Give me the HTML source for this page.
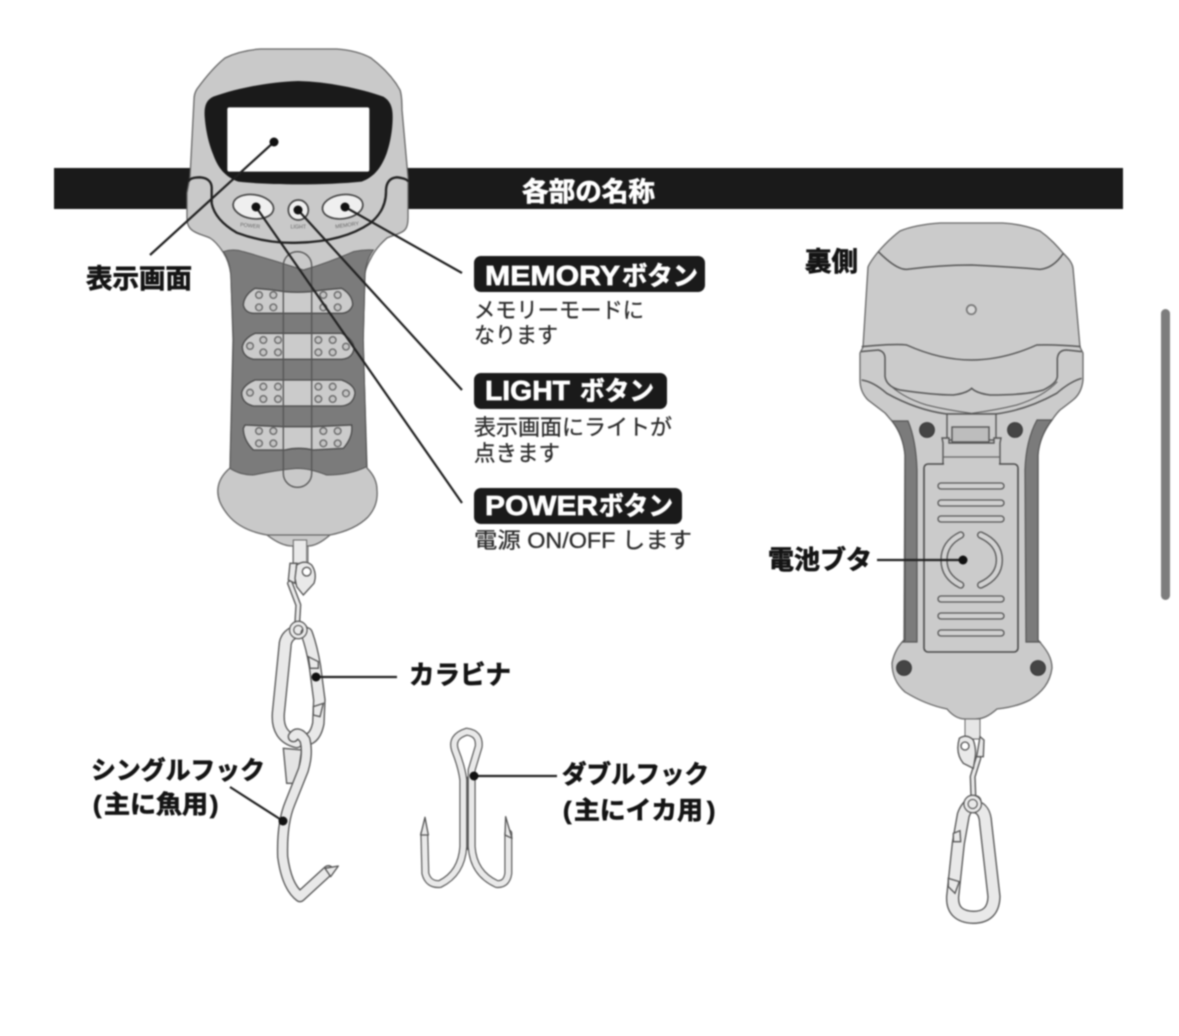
<!DOCTYPE html>
<html lang="ja"><head><meta charset="utf-8"><title>各部の名称</title>
<style>
html,body{margin:0;padding:0;background:#fff;width:1179px;height:1036px;overflow:hidden}
svg{display:block;filter:blur(.75px)}
text{font-family:"Liberation Sans","Noto Sans CJK JP",sans-serif}
.b{font-weight:700;fill:#141414;stroke:#141414;stroke-width:.7px}
.w{font-weight:700;fill:#fff;stroke:#fff;stroke-width:.7px}
.d{fill:#2c2c2c;font-size:22px;stroke:#2c2c2c;stroke-width:.3px}
.o{fill:none;stroke:#555;stroke-linecap:round;stroke-linejoin:round}
.i{fill:none;stroke:#e9e9e9;stroke-linecap:round;stroke-linejoin:round}
.l{stroke:#222;stroke-width:2.2;fill:none}
</style></head><body>
<svg width="1179" height="1036" viewBox="0 0 1179 1036" xmlns="http://www.w3.org/2000/svg">
<rect width="1179" height="1036" fill="#fff"/>
<rect x="54" y="168" width="1069" height="41" fill="#1a1a1a"/>
<text class="w" x="522" y="201" font-size="26.5" textLength="133" lengthAdjust="spacingAndGlyphs">各部の名称</text>
<rect x="1161" y="309" width="9" height="291" rx="4.5" fill="#7d7d7d"/>

<!-- FRONT BODY -->
<path d="M260 49 L337 49 C350 50 362 53 371 58 C384 68 394 79 400 90 C402 96 402 104 402 110 L408 177 L408 218 C408 228 405 231 400 233 C396 235 391 236 387 238 C379 245 374 252 371 258 C367 265 365 270 365 275 L363 340 L367 468 C374 475 377 482 377 490 C378 502 374 510 368 517 C358 527 345 532 330 535 C322 542 315 546 308 546 L292 546 C284 546 276 542 267 535 C250 532 237 526 228 515 C220 505 217 497 218 488 C219 480 224 473 230 468 L233 340 L231 275 C230 267 227 258 223 252 C219 246 215 241 210 238 C206 236 201 235 197 233 C190 230 187 226 187 218 L187 193 L190 177 L194 100 C194 95 195 92 197 89 C205 78 215 66 225 58 C235 53 248 50 260 49Z" fill="#c9c9c9" stroke="#666" stroke-width="1.3"/>
<path d="M267 535 L330 535" stroke="#666" stroke-width="1.2"/>
<rect x="293" y="546" width="15" height="22" fill="#e6e6e6" stroke="#666" stroke-width="1"/>

<g transform="translate(210 240) scale(.33333)">
<path d="M40 35 Q70 25 100 35 Q190 60 280 90 Q350 70 430 35 Q460 28 490 30 Q468 60 465 100 L460 300 L470 680 Q420 705 350 705 Q300 685 260 685 Q200 690 130 705 Q90 705 60 685 L70 300 L62 100 Q58 60 40 35Z" fill="#7b7b7b" stroke="#555" stroke-width="3"/>
<g fill="#cbcbcb" stroke="#4a4a4a" stroke-width="4">
<path d="M135 145 Q180 148 225 155 Q262 158 300 155 Q350 148 395 145 Q428 165 428 195 Q420 218 395 220 L130 220 Q105 218 100 195 Q102 165 135 145Z"/>
<path d="M135 280 L395 280 Q432 300 432 325 Q428 355 395 358 L130 358 Q97 350 97 320 Q102 295 135 280Z"/>
<path d="M135 420 L395 420 Q435 435 435 460 Q430 495 395 498 L130 498 Q95 490 95 458 Q100 435 135 420Z"/>
<path d="M105 555 L220 560 L310 560 L425 555 Q430 590 400 625 L310 630 Q265 620 225 630 L130 630 Q100 600 100 565Z"/>
</g>
<rect x="220" y="35" width="85" height="707" rx="42" fill="none" stroke="#555" stroke-width="4"/>
<g fill="#c4c4c4" stroke="#666" stroke-width="4">
<circle cx="147" cy="165" r="10"/><circle cx="190" cy="165" r="10"/><circle cx="147" cy="202" r="10"/><circle cx="190" cy="202" r="10"/><circle cx="340" cy="165" r="10"/><circle cx="383" cy="165" r="10"/><circle cx="340" cy="202" r="10"/><circle cx="383" cy="202" r="10"/>
<circle cx="120" cy="318" r="10"/><circle cx="160" cy="300" r="10"/><circle cx="204" cy="300" r="10"/><circle cx="160" cy="337" r="10"/><circle cx="204" cy="337" r="10"/><circle cx="325" cy="300" r="10"/><circle cx="368" cy="300" r="10"/><circle cx="325" cy="337" r="10"/><circle cx="368" cy="337" r="10"/><circle cx="408" cy="320" r="10"/>
<circle cx="120" cy="458" r="10"/><circle cx="160" cy="440" r="10"/><circle cx="204" cy="440" r="10"/><circle cx="160" cy="477" r="10"/><circle cx="204" cy="477" r="10"/><circle cx="325" cy="440" r="10"/><circle cx="368" cy="440" r="10"/><circle cx="325" cy="477" r="10"/><circle cx="368" cy="477" r="10"/><circle cx="408" cy="460" r="10"/>
<circle cx="147" cy="573" r="10"/><circle cx="190" cy="573" r="10"/><circle cx="147" cy="610" r="10"/><circle cx="190" cy="610" r="10"/><circle cx="340" cy="573" r="10"/><circle cx="383" cy="573" r="10"/><circle cx="340" cy="610" r="10"/><circle cx="383" cy="610" r="10"/>
</g>
</g>

<g transform="translate(170 60) scale(.33333)">
<path d="M385 63 C300 65 200 85 130 110 C108 120 102 140 104 170 C108 220 118 255 130 285 C145 325 165 350 205 365 C300 376 470 376 575 365 C615 350 635 320 650 280 C662 245 668 205 668 170 C668 140 660 122 640 110 C570 85 470 65 385 63Z" fill="#1a1a1a"/>
<rect x="172" y="142" width="426" height="193" rx="6" fill="#fff"/>
<path d="M55 365 Q60 352 90 352 Q128 355 125 390 L125 430 Q135 480 200 518 Q290 552 385 548 Q520 545 600 490 Q650 450 648 390 Q650 355 680 352 Q710 355 715 365" fill="none" stroke="#222" stroke-width="7"/>
<ellipse cx="250" cy="440" rx="61" ry="36" transform="rotate(8 250 440)" fill="#efefef" stroke="#444" stroke-width="5"/>
<ellipse cx="518" cy="440" rx="61" ry="36" transform="rotate(-8 518 440)" fill="#efefef" stroke="#444" stroke-width="5"/>
<circle cx="385" cy="450" r="30" fill="#efefef" stroke="#444" stroke-width="5"/>
<text x="240" y="502" font-size="16" fill="#666" text-anchor="middle" transform="rotate(6 240 502)">POWER</text>
<text x="385" y="505" font-size="16" fill="#666" text-anchor="middle">LIGHT</text>
<text x="532" y="500" font-size="16" fill="#666" text-anchor="middle" transform="rotate(-8 532 500)">MEMORY</text>
</g>

<!-- FRONT HANGER -->
<g transform="translate(240 540) scale(.33333)">
<path d="M130 625 L185 630 L170 730 L140 730Z" fill="#e4e4e4" stroke="#555" stroke-width="4"/>
<path class="o" stroke-width="40" d="M185 270 Q135 280 135 320 L115 520 Q110 590 170 605"/>
<path class="i" stroke-width="32" d="M185 270 Q135 280 135 320 L115 520 Q110 590 170 605"/>
<path class="o" stroke-width="38" d="M200 280 Q215 320 225 380 L238 480 L235 550 Q228 585 210 595"/>
<path class="i" stroke-width="30" d="M200 280 Q215 320 225 380 L238 480 L235 550 Q228 585 210 595"/>
<path d="M205 350 L235 365 L235 385 L210 385Z M220 500 L250 490 L240 530 L220 525Z" fill="#e9e9e9" stroke="#555" stroke-width="4"/>
<path class="o" stroke-width="34" d="M160 590 Q175 570 195 600 Q205 640 190 690 L150 790 Q125 850 128 950 Q140 1040 180 1070 L265 992"/>
<path class="i" stroke-width="26" d="M160 590 Q175 570 195 600 Q205 640 190 690 L150 790 Q125 850 128 950 Q140 1040 180 1070 L265 992"/>
<path d="M255 985 L295 978 L272 1010Z" fill="#e9e9e9" stroke="#555" stroke-width="4" stroke-linejoin="round"/>
<path class="o" stroke-width="18" d="M150 130 L175 195 L172 245"/>
<path class="i" stroke-width="10" d="M150 130 L175 195 L172 245"/>
<circle cx="175" cy="270" r="20" fill="none" stroke="#555" stroke-width="16"/>
<circle cx="175" cy="270" r="20" fill="none" stroke="#e9e9e9" stroke-width="9"/>
<rect x="160" y="0" width="40" height="70" fill="#e9e9e9" stroke="#666" stroke-width="3"/>
<path d="M150 70 L145 120 L165 130 L170 70Z" fill="#e9e9e9" stroke="#555" stroke-width="4"/>
<path d="M170 75 Q195 58 215 75 Q232 100 222 130 L190 165 L170 140 L165 115Z" fill="#e9e9e9" stroke="#555" stroke-width="4"/>
<circle cx="200" cy="95" r="13" fill="#fff" stroke="#555" stroke-width="4"/>

<path class="o" stroke-width="24" d="M553 880 L556 1000 Q565 1035 600 1032 Q665 1000 670 920 L670 720 Q665 680 645 630 Q632 590 680 575 Q720 580 716 620 L695 690 L695 920 Q700 1000 770 1032 Q800 1035 805 1000 L805 880"/>
<path class="i" stroke-width="17" d="M553 880 L556 1000 Q565 1035 600 1032 Q665 1000 670 920 L670 720 Q665 680 645 630 Q632 590 680 575 Q720 580 716 620 L695 690 L695 920 Q700 1000 770 1032 Q800 1035 805 1000 L805 880"/>
<path d="M682 710 V930" stroke="#555" stroke-width="4"/>
<path d="M542 885 L555 832 L565 885Z M795 885 L797 830 L816 895Z" fill="#e9e9e9" stroke="#555" stroke-width="4" stroke-linejoin="round"/>
</g>

<!-- BACK BODY -->
<path d="M940 223 L1003 223 C1018 224 1030 227 1040 231 C1050 238 1057 246 1063 253 C1068 258 1072 262 1073 268 L1080 347 L1083 353 L1083 380 C1082 390 1078 396 1073 400 C1068 404 1064 407 1060 410 C1057 413 1054 417 1052 420 C1043 432 1038 445 1038 455 L1038 640 C1047 650 1052 658 1052 668 C1050 683 1042 692 1030 700 C1020 705 1008 708 997 709 C989 716 983 719 975 719 L965 719 C958 719 952 715 947 709 C932 706 918 700 905 692 C896 684 892 675 892 663 C894 653 898 646 904 640 L905 455 C904 442 899 430 892 421 C889 418 887 415 885 413 L868 400 C863 395 860 388 860 380 L860 353 L863 347 L868 267 C870 262 874 257 878 252 C885 244 892 237 900 231 C912 226 926 224 940 223Z" fill="#cbcbcb" stroke="#666" stroke-width="1.3"/>
<rect x="965" y="719" width="15" height="20" fill="#e6e6e6" stroke="#666" stroke-width="1"/>
<path d="M892 421 Q903 435 905 455 L905 640 L903 642 L917 642 L917 470 Q916 440 908 421Z M1052 420 L1037 420 Q1026 440 1025 470 L1026 642 L1040 642 L1038 640 L1038 455 Q1040 435 1052 420Z" fill="#7b7b7b" stroke="#555" stroke-width="1.2"/>
<g transform="translate(840 210) scale(.33333)" fill="none" stroke="#555" stroke-width="4.5">
<path d="M115 125 Q170 180 200 178 Q300 165 395 165 Q500 170 600 178 Q640 175 670 130"/>
<path d="M65 410 Q170 400 200 405 Q300 450 395 450 Q490 450 590 405 Q650 403 722 410"/>
<path d="M62 425 L115 420 Q135 425 135 445 L135 500 Q140 530 180 540 Q280 555 340 555 Q380 550 395 535 Q410 550 450 555 Q560 555 610 540 Q650 520 652 500 L652 445 Q655 420 680 420 L725 425"/>
<path d="M65 510 Q100 515 140 550 Q230 600 320 612 L467 612 Q560 600 650 550 Q690 515 725 505"/>
<path d="M140 515 Q180 560 260 585 Q320 600 395 610 M652 515 Q610 560 530 585 Q470 600 395 610" stroke-width="3"/>
<circle cx="394" cy="299" r="14" fill="#d8d8d8" stroke="#777" stroke-width="5"/>
</g>
<rect x="947" y="414" width="49" height="26" fill="#cbcbcb" stroke="#555" stroke-width="1.4"/>
<rect x="952" y="427" width="37" height="15" fill="#bdbdbd" stroke="#555" stroke-width="1.4"/>
<path d="M943 464 L943 443 L942 438 L949 438 L949 443 L994 443 L994 438 L1001 438 L1000 443 L1000 464" fill="#cbcbcb" stroke="#555" stroke-width="1.4"/>
<rect x="924" y="464" width="94" height="188" rx="4" fill="#cbcbcb" stroke="#4a4a4a" stroke-width="1.6"/>
<rect x="944" y="462" width="55" height="4" fill="#cbcbcb"/>
<path d="M943 457 H1000" stroke="#666" stroke-width="1.2"/>
<g fill="#d0d0d0" stroke="#555" stroke-width="1.3">
<rect x="938" y="483" width="66" height="6" rx="3"/><rect x="938" y="500" width="66" height="6" rx="3"/><rect x="938" y="516" width="66" height="6" rx="3"/>
<rect x="938" y="596" width="66" height="6" rx="3"/><rect x="938" y="613" width="66" height="6" rx="3"/><rect x="938" y="630" width="66" height="6" rx="3"/>
</g>
<g fill="#454545" stroke="#333" stroke-width=".8">
<circle cx="927" cy="430" r="7.5"/><circle cx="1015" cy="430" r="7.5"/><circle cx="904" cy="668" r="7.5"/><circle cx="1038" cy="668" r="7.5"/>
</g>
<g transform="translate(870 440) scale(.33333)">
<path class="o" stroke-width="22" d="M272 285 Q222 310 222 360 Q222 410 272 435 M332 285 Q388 310 388 360 Q388 410 332 435"/>
<path class="i" style="stroke:#d2d2d2" stroke-width="14" d="M272 285 Q222 310 222 360 Q222 410 272 435 M332 285 Q388 310 388 360 Q388 410 332 435"/>
</g>

<!-- BACK HANGER -->
<g transform="translate(920 700) scale(.33333)">
<path class="o" stroke-width="40" d="M165 320 Q195 325 197 370 L222 590 Q220 652 160 652 Q95 650 98 590 L115 430 L130 345 Q140 315 165 305"/>
<path class="i" stroke-width="32" d="M165 320 Q195 325 197 370 L222 590 Q220 652 160 652 Q95 650 98 590 L115 430 L130 345 Q140 315 165 305"/>
<path d="M100 400 L120 392 L122 425 L100 425Z M85 535 L118 545 L105 580 L85 560Z" fill="#e9e9e9" stroke="#555" stroke-width="4"/>
<path class="o" stroke-width="18" d="M175 175 L158 230 L160 285"/>
<path class="i" stroke-width="10" d="M175 175 L158 230 L160 285"/>
<circle cx="158" cy="312" r="20" fill="none" stroke="#555" stroke-width="16"/>
<circle cx="158" cy="312" r="20" fill="none" stroke="#e9e9e9" stroke-width="9"/>
<path d="M180 110 L192 120 L190 170 L170 170Z" fill="#e9e9e9" stroke="#555" stroke-width="4"/>
<path d="M118 115 Q140 100 160 120 Q170 150 165 175 L160 205 L130 190 Q105 160 118 115Z" fill="#e9e9e9" stroke="#555" stroke-width="4"/>
<circle cx="135" cy="138" r="12" fill="#fff" stroke="#555" stroke-width="4"/>
</g>

<!-- POINTERS -->
<g class="l">
<path d="M274 142 L150 255"/>
<path d="M256 207 L462 503"/>
<path d="M298 210 L462 390"/>
<path d="M345 207 L462 273"/>
<path d="M230 787 L283 821"/>
<path d="M316 677 L397 677"/>
<path d="M474 776 L557 776"/>
<path d="M877 560 L963 560"/>
</g>
<g fill="#111">
<circle cx="274" cy="142" r="4.5"/><circle cx="256" cy="207" r="4.5"/><circle cx="298" cy="210" r="4.5"/><circle cx="345" cy="207" r="4.5"/>
<circle cx="283" cy="821" r="4.5"/><circle cx="316" cy="677" r="4.5"/><circle cx="474" cy="776" r="4.5"/><circle cx="963" cy="560" r="4.5"/>
</g>

<!-- LABELS -->
<rect x="474" y="256" width="231" height="36" rx="7" fill="#1a1a1a"/>
<rect x="474" y="373" width="193" height="36" rx="7" fill="#1a1a1a"/>
<rect x="474" y="488" width="208" height="36" rx="7" fill="#1a1a1a"/>
<text class="w" x="485" y="285" font-size="28" textLength="135" lengthAdjust="spacingAndGlyphs">MEMORY</text>
<text class="w" x="622" y="285" font-size="26" textLength="76" lengthAdjust="spacingAndGlyphs">ボタン</text>
<text class="w" x="485" y="400" font-size="28" textLength="85" lengthAdjust="spacingAndGlyphs">LIGHT</text>
<text class="w" x="580" y="400" font-size="26" textLength="74" lengthAdjust="spacingAndGlyphs">ボタン</text>
<text class="w" x="485" y="515" font-size="28" textLength="113" lengthAdjust="spacingAndGlyphs">POWER</text>
<text class="w" x="599" y="515" font-size="26" textLength="74" lengthAdjust="spacingAndGlyphs">ボタン</text>

<text class="d" x="474" y="318" textLength="170" lengthAdjust="spacingAndGlyphs">メモリーモードに</text>
<text class="d" x="474" y="343" textLength="84" lengthAdjust="spacingAndGlyphs">なります</text>
<text class="d" x="474" y="435" textLength="198" lengthAdjust="spacingAndGlyphs">表示画面にライトが</text>
<text class="d" x="474" y="461" textLength="86" lengthAdjust="spacingAndGlyphs">点きます</text>
<text class="d" x="474" y="548" textLength="218" lengthAdjust="spacingAndGlyphs">電源 ON/OFF します</text>

<text class="b" x="86" y="288" font-size="26.5" textLength="106" lengthAdjust="spacingAndGlyphs">表示画面</text>
<text class="b" x="805" y="271" font-size="26.5" textLength="53" lengthAdjust="spacingAndGlyphs">裏側</text>
<text class="b" x="768" y="569" font-size="26" textLength="104" lengthAdjust="spacingAndGlyphs">電池ブタ</text>
<text class="b" x="409" y="684" font-size="26" textLength="102" lengthAdjust="spacingAndGlyphs">カラビナ</text>
<text class="b" x="91" y="779" font-size="25" textLength="174" lengthAdjust="spacingAndGlyphs">シングルフック</text>
<text class="b" x="93" y="813" font-size="25">(</text>
<text class="b" x="104" y="813" font-size="25" textLength="104" lengthAdjust="spacingAndGlyphs">主に魚用</text>
<text class="b" x="210" y="813" font-size="25">)</text>
<text class="b" x="562" y="783" font-size="25" textLength="147" lengthAdjust="spacingAndGlyphs">ダブルフック</text>
<text class="b" x="563" y="819" font-size="25">(</text>
<text class="b" x="574" y="819" font-size="25" textLength="129" lengthAdjust="spacingAndGlyphs">主にイカ用</text>
<text class="b" x="707" y="819" font-size="25">)</text>
</svg>
</body></html>
